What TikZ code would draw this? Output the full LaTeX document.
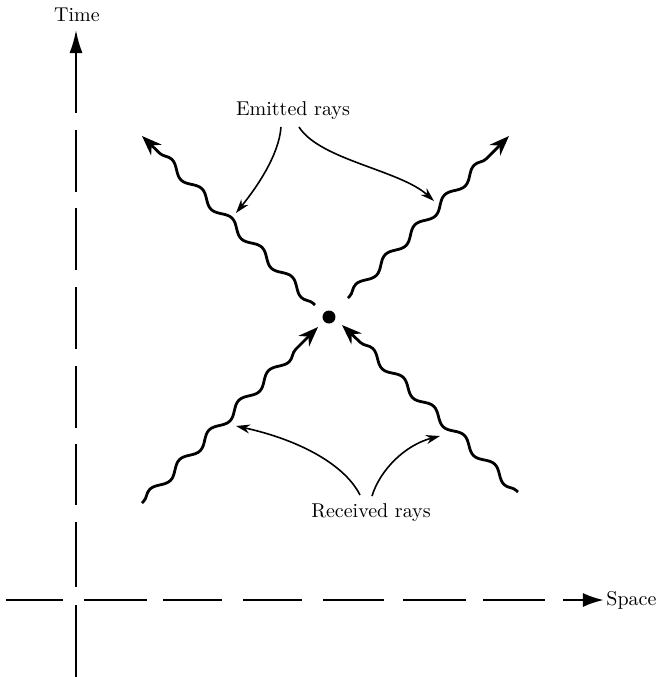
\documentclass[tikz,border=0pt]{standalone}
\usetikzlibrary{arrows.meta,decorations.pathmorphing}
\begin{document}
\begin{tikzpicture}[x=0.5pt,y=-0.5pt,
  vaxis/.style={line width=1pt},
  haxis/.style={line width=1.3pt},
  ray/.style={line width=1.4pt, decorate,
    decoration={snake, segment length=21pt, amplitude=2.1pt, pre length=1pt, post length=7pt},
    -{Stealth[length=10pt,width=7.5pt]}},
  pointer/.style={line width=0.8pt, -{Stealth[length=7pt,width=4.5pt]}},
  lbl/.style={inner sep=1pt}]
\useasboundingbox (0,0) rectangle (659,677);
% axes
\node[lbl] (time) at (77,15) {Time};
\node[lbl,anchor=west] (space) at (604,600) {Space};
\coordinate (tstart) at (76,113);
\coordinate (ttip) at (76,30);
\draw[vaxis,-{Latex[length=11.5pt,width=6.5pt]}] (tstart) -- (ttip);
\foreach \a/\b in {130/192,208/270,287/349,366/428,444/505,522/587}
  \draw[vaxis] (76,\a) -- (76,\b);
\draw[vaxis] (76,605) -- (76,677);
\foreach \a/\b in {6/63,84/147,163/222,243/302,323/384,403/466,483/545}
  \draw[haxis] (\a,600) -- (\b,600);
\coordinate (sstart) at (563,600);
\draw[haxis,-{Latex[length=10.5pt,width=7pt]}] (sstart) -- (space.west);
% event
\node[circle,fill=black,inner sep=0pt,minimum size=6.5pt] (ev) at (329,317) {};
% rays
\coordinate (ul0) at (315,305);
\coordinate (ul1) at (142,136);
\coordinate (ur0) at (348,298);
\coordinate (ur1) at (509,136);
\coordinate (ll0) at (142,503);
\coordinate (ll1) at (318,327);
\coordinate (lr0) at (518,492);
\coordinate (lr1) at (342,325);
\draw[ray] (ul0) -- (ul1);
\draw[ray] (ur0) -- (ur1);
\draw[ray] (ll0) -- (ll1);
\draw[ray] (lr0) -- (lr1);
% labels
\node[lbl] (emit) at (293,111) {Emitted rays};
\node[lbl] (recv) at (371,513) {Received rays};
\coordinate (ep1) at (236,213);
\coordinate (ep2) at (434,201);
\coordinate (rp1) at (236,426);
\coordinate (rp2) at (440,436);
\draw[pointer] (281,127) .. controls (279,155) and (257,187) .. (ep1);
\draw[pointer] (299,127) .. controls (320,160) and (400,170) .. (ep2);
\draw[pointer] (360,495) .. controls (345,465) and (300,440) .. (rp1);
\draw[pointer] (372,496) .. controls (380,470) and (405,445) .. (rp2);
\end{tikzpicture}
\end{document}
